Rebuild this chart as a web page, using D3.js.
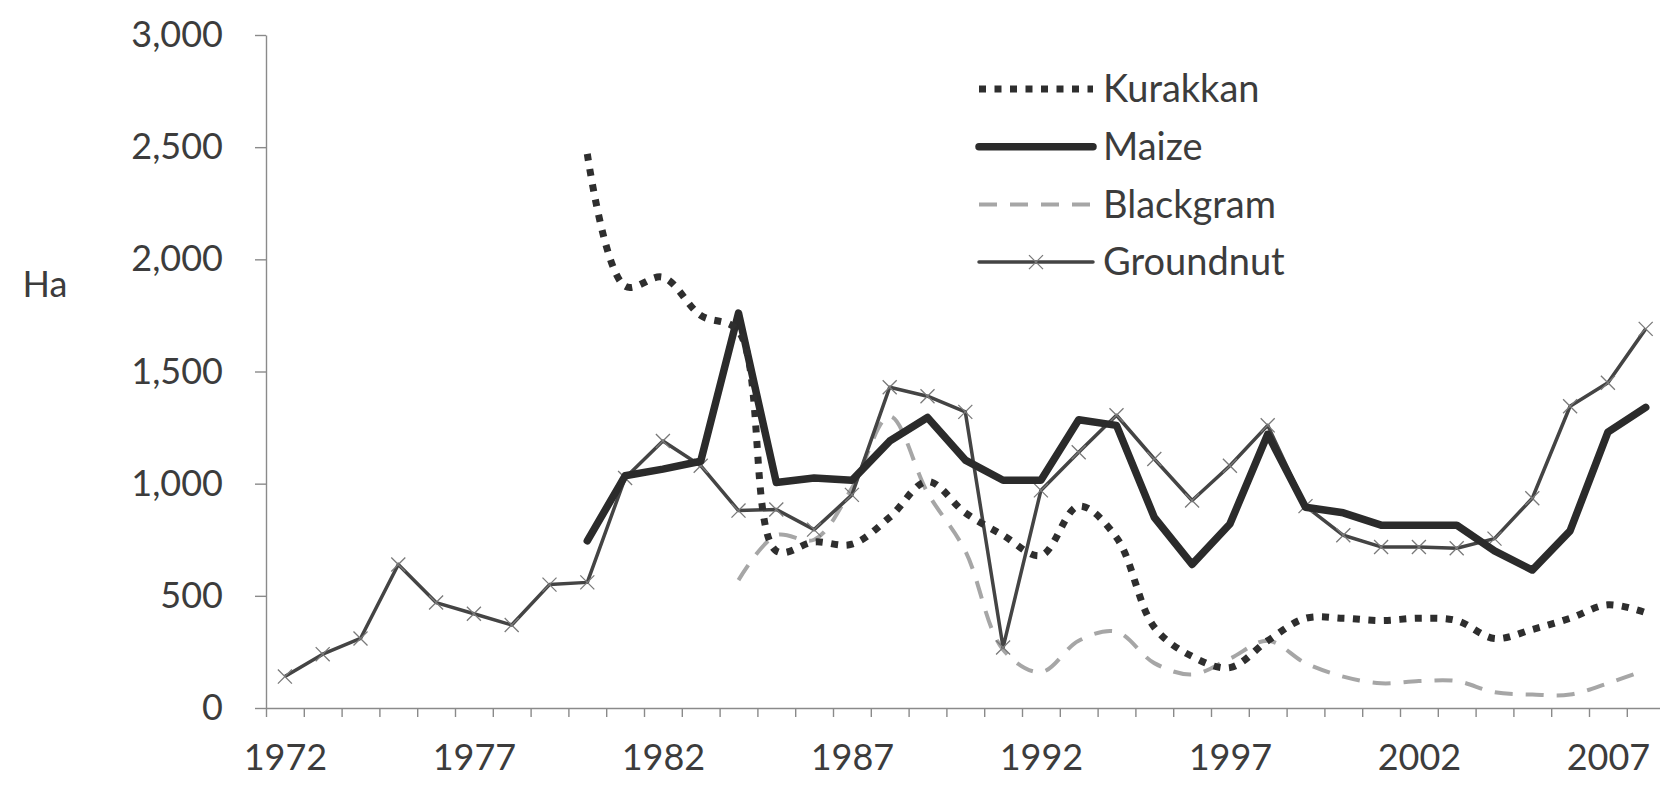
<!DOCTYPE html>
<html>
<head>
<meta charset="utf-8">
<script src="https://cdnjs.cloudflare.com/ajax/libs/d3/7.8.5/d3.min.js"></script>
<style>
  body { margin: 0; background: #fff; }
  text { font-family: Lato, "Open Sans", sans-serif; fill: #3c3c3c; }
</style>
</head>
<body>
<div id="chart"></div>
<script>
// data (hectares)
let years = d3.range(1972, 2009);
let labelYears = [1972, 1977, 1982, 1987, 1992, 1997, 2002, 2007];
let yTicks = [0, 500, 1000, 1500, 2000, 2500, 3000];

let kurakkanYears = d3.range(1980, 2009);
let kurakkan = [2470, 1880, 1920, 1750, 1680, 700, 740, 730, 850, 1010,
  870, 770, 680, 900, 760, 360, 230, 180, 300, 400,
  400, 390, 400, 390, 310, 350, 400, 460, 425];

let maizeYears = d3.range(1980, 2009);
let maize = [745, 1035, 1065, 1100, 1760, 1005, 1025, 1015, 1190, 1295,
  1105, 1015, 1015, 1285, 1260, 850, 640, 820, 1220, 895,
  870, 815, 815, 815, 700, 615, 790, 1230, 1340];

let blackgramYears = d3.range(1984, 2009);
let blackgram = [570, 770, 750, 980, 1300, 960, 700, 260, 160, 300,
  340, 200, 150, 220, 300, 200, 140, 110, 120, 120,
  70, 60, 60, 110, 170];

let groundnutYears = d3.range(1972, 2009);
let groundnut = [140, 240, 310, 640, 470, 420, 370, 550, 560, 1025,
  1190, 1080, 880, 885, 795, 950, 1430, 1390, 1320, 270,
  970, 1140, 1305, 1110, 925, 1080, 1260, 900, 770, 718,
  718, 712, 755, 935, 1345, 1450, 1690];

let svg_width = 1660;
let svg_height = 788;

let svg = d3.select('#chart').append('svg')
  .attr('width', svg_width)
  .attr('height', svg_height);

// scales
let x = d3.scaleLinear()
  .domain([years[0] - 0.5, years[years.length - 1] + 0.5])
  .range([266, 266 + years.length * 37.8]);

let y = d3.scaleLinear()
  .domain([0, 3000])
  .range([708, 35]);

// x axis: tick marks between categories, labels every 5 years
let tickEdges = d3.range(years[0] - 0.5, years[years.length - 1] + 0.5, 1);
let xAxisTicks = svg.append('g')
  .attr('transform', `translate(0, ${y(0)})`)
  .call(d3.axisBottom(x).tickValues(tickEdges).tickFormat('').tickSize(9).tickSizeOuter(0));

let xAxisLabels = svg.append('g')
  .attr('transform', `translate(0, ${y(0)})`)
  .call(d3.axisBottom(x).tickValues(labelYears).tickFormat(d3.format('d')).tickSize(0).tickPadding(36));
xAxisLabels.select('.domain').remove();

let yAxis = svg.append('g')
  .attr('transform', `translate(${x.range()[0]}, 0)`)
  .call(d3.axisLeft(y).tickValues(yTicks).tickFormat(d3.format(',')).tickSize(11).tickPadding(32).tickSizeOuter(0));

svg.selectAll('.domain, .tick line')
  .attr('stroke', '#8a8a8a')
  .attr('stroke-width', 1.4);
svg.selectAll('.tick text')
  .attr('font-size', '36px')
  .attr('fill', '#3c3c3c');

svg.append('text')
  .attr('x', 45)
  .attr('y', y(1890))
  .attr('dy', '0.35em')
  .attr('text-anchor', 'middle')
  .attr('font-size', '36px')
  .text('Ha');

// series
let straight = d3.line()
  .x(d => x(d[0]))
  .y(d => y(d[1]));

let smooth = d3.line()
  .x(d => x(d[0]))
  .y(d => y(d[1]))
  .curve(d3.curveCatmullRom.alpha(0.5));

let styles = {
  Kurakkan: {stroke: '#2e2e2e', width: 7, dash: '7,8.5', cap: 'butt'},
  Maize: {stroke: '#2b2b2b', width: 7.5, dash: null, cap: 'round'},
  Blackgram: {stroke: '#a6a6a6', width: 4, dash: '18,13', cap: 'butt'},
  Groundnut: {stroke: '#444444', width: 3.5, dash: null, cap: 'round'}
};

let groundnutPts = d3.zip(groundnutYears, groundnut);

svg.append('path')
  .datum(d3.zip(blackgramYears, blackgram))
  .attr('fill', 'none')
  .attr('stroke', styles.Blackgram.stroke)
  .attr('stroke-width', styles.Blackgram.width)
  .attr('stroke-dasharray', styles.Blackgram.dash)
  .attr('d', smooth);

svg.append('path')
  .datum(groundnutPts)
  .attr('fill', 'none')
  .attr('stroke', styles.Groundnut.stroke)
  .attr('stroke-width', styles.Groundnut.width)
  .attr('stroke-linejoin', 'round')
  .attr('d', straight);

svg.append('g').selectAll('path')
  .data(groundnutPts)
  .enter()
  .append('path')
  .attr('transform', d => `translate(${x(d[0])}, ${y(d[1])})`)
  .attr('d', d3.symbol().type(d3.symbolX).size(130))
  .attr('fill', 'none')
  .attr('stroke', '#7a7a7a')
  .attr('stroke-width', 1.3);

svg.append('path')
  .datum(d3.zip(maizeYears, maize))
  .attr('fill', 'none')
  .attr('stroke', styles.Maize.stroke)
  .attr('stroke-width', styles.Maize.width)
  .attr('stroke-linejoin', 'round')
  .attr('stroke-linecap', 'round')
  .attr('d', straight);

svg.append('path')
  .datum(d3.zip(kurakkanYears, kurakkan))
  .attr('fill', 'none')
  .attr('stroke', styles.Kurakkan.stroke)
  .attr('stroke-width', styles.Kurakkan.width)
  .attr('stroke-dasharray', styles.Kurakkan.dash)
  .attr('d', smooth);

// legend
let legendNames = ['Kurakkan', 'Maize', 'Blackgram', 'Groundnut'];
let legend = svg.append('g')
  .attr('transform', 'translate(979, 89)');

legendNames.forEach(function(name, i) {
  let s = styles[name];
  let row = legend.append('g').attr('transform', `translate(0, ${i * 57.7})`);
  row.append('line')
    .attr('x1', 0).attr('x2', 114)
    .attr('y1', 0).attr('y2', 0)
    .attr('stroke', s.stroke)
    .attr('stroke-width', s.width)
    .attr('stroke-linecap', s.cap)
    .attr('stroke-dasharray', s.dash);
  if (name === 'Groundnut') {
    row.append('path')
      .attr('transform', 'translate(57, 0)')
      .attr('d', d3.symbol().type(d3.symbolX).size(130))
      .attr('fill', 'none')
      .attr('stroke', '#7a7a7a')
      .attr('stroke-width', 1.3);
  }
  row.append('text')
    .attr('x', 124)
    .attr('y', 0)
    .attr('dy', '0.35em')
    .attr('font-size', '38px')
    .text(name);
});
</script>
</body>
</html>
